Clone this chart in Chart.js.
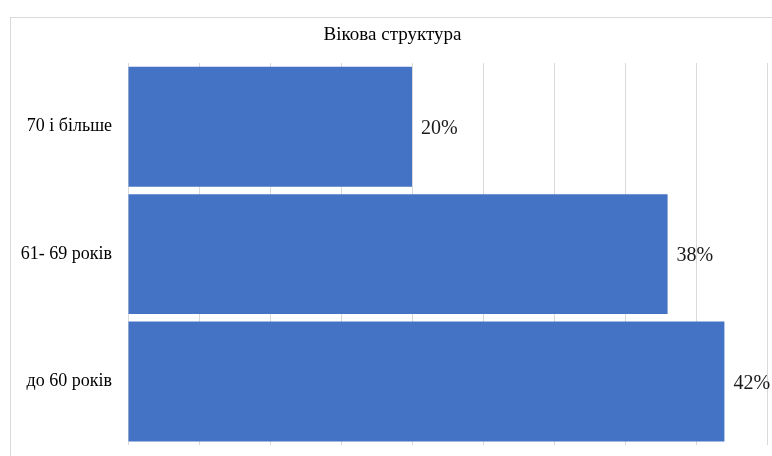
<!DOCTYPE html>
<html>
<head>
<meta charset="utf-8">
<script src="https://cdn.jsdelivr.net/npm/chart.js@4.4.1/dist/chart.umd.min.js"></script>
<style>
  html, body { margin: 0; padding: 0; background: #ffffff; overflow: hidden; width: 772px; height: 456px; }
  #frame { position: absolute; left: 10px; top: 17px; width: 800px; height: 480px; border: 1px solid #d9d9d9; box-sizing: border-box; }
  #wrap { position: absolute; left: 0; top: 0; width: 794px; height: 456px; }
</style>
</head>
<body>
<div id="frame"></div>
<div id="wrap"><canvas id="c" width="794" height="456"></canvas></div>
<script>
const titleText = 'Вікова структура';
const categories = ['70 і більше', '61- 69 років', 'до 60 років'];
const values = [20, 38, 42];
const axisMax = 45;
const axisStep = 5;

const serif = '"Liberation Serif", "Times New Roman", serif';

const dataLabels = {
  id: 'dataLabels',
  afterDatasetsDraw(chart) {
    const ctx = chart.ctx;
    const meta = chart.getDatasetMeta(0);
    ctx.save();
    ctx.font = '20px ' + serif;
    ctx.fillStyle = '#1a1a1a';
    ctx.textAlign = 'left';
    ctx.textBaseline = 'middle';
    meta.data.forEach((el, i) => {
      ctx.fillText(values[i] + '%', el.x + 9, el.y + 2);
    });
    ctx.restore();
  }
};

new Chart(document.getElementById('c'), {
  type: 'bar',
  data: {
    labels: categories,
    datasets: [{
      data: values,
      backgroundColor: '#4472C4',
      borderWidth: 0,
      barPercentage: 1,
      categoryPercentage: 0.941
    }]
  },
  options: {
    indexAxis: 'y',
    responsive: false,
    animation: false,
    devicePixelRatio: 1,
    layout: { autoPadding: false, padding: { left: 18, right: 27, top: 0, bottom: 0 } },
    plugins: {
      legend: { display: false },
      tooltip: { enabled: false },
      title: {
        display: true,
        text: titleText,
        color: '#000000',
        font: { family: serif, size: 19, weight: 'normal', lineHeight: 1.2 },
        padding: { top: 24, bottom: 16.2 }
      }
    },
    scales: {
      x: {
        min: 0,
        max: axisMax,
        ticks: { stepSize: axisStep, display: false },
        grid: { color: '#d9d9d9', lineWidth: 1, drawTicks: false },
        border: { display: false },
        afterFit(scale) { scale.height = 10.5; }
      },
      y: {
        ticks: {
          color: '#000000',
          font: { family: serif, size: 18 },
          padding: 0
        },
        grid: { display: false, drawTicks: true, tickLength: 16 },
        border: { display: false },
        afterFit(scale) { scale.width = 110; }
      }
    }
  },
  plugins: [dataLabels]
});
</script>
</body>
</html>
